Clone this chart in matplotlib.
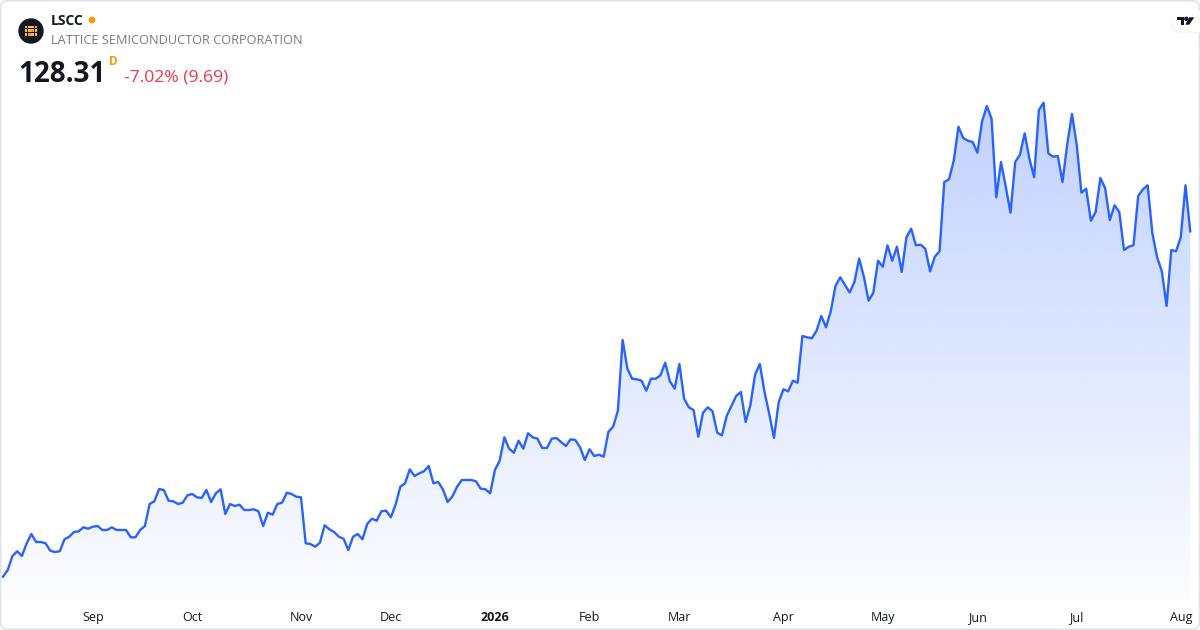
import numpy as np
import pandas as pd
import matplotlib
matplotlib.use("Agg")
import matplotlib.pyplot as plt
from matplotlib.patches import FancyBboxPatch, Circle, Rectangle, Polygon

plt.rcParams['font.family'] = ['Open Sans', 'Noto Sans', 'DejaVu Sans']

# ---------------- data ----------------
ticker = "LSCC"
company = "LATTICE SEMICONDUCTOR CORPORATION"
last_price = "128.31"
change_text = "-7.02% (9.69)"

holidays = ["2025-09-01", "2025-11-27", "2025-12-25", "2026-01-01", "2026-01-19",
            "2026-02-16", "2026-04-03", "2026-05-25", "2026-06-19", "2026-07-03"]

closes = [
    55.55, 56.96, 59.91, 60.90, 59.91, 62.58, 64.54, 62.86, 62.86, 62.58,
    61.02, 60.75, 60.90, 63.43, 63.97, 64.96, 65.11, 65.95, 65.66, 66.08,
    66.23, 65.39, 65.39, 65.95, 65.39, 65.39, 65.39, 63.85, 63.85, 65.39,
    66.23, 70.86, 71.43, 74.02, 73.81, 71.56, 71.43, 70.86, 71.14, 72.70,
    72.97, 72.27, 72.13, 73.81, 71.28, 73.12, 73.96, 68.76, 70.86, 70.44,
    70.72, 69.60, 69.60, 69.75, 69.33, 66.23, 69.03, 68.61, 70.86, 71.14,
    73.24, 72.97, 72.40, 72.27, 62.58, 62.44, 61.87, 62.71, 66.38, 65.53,
    64.96, 63.97, 63.55, 61.17, 63.97, 64.54, 63.43, 66.65, 67.77, 67.34,
    69.33, 69.45, 68.06, 70.72, 74.51, 75.22, 78.17, 76.76, 77.33, 77.75,
    78.87, 75.22, 75.50, 73.96, 71.28, 72.44, 74.51, 75.92, 75.92, 75.92,
    75.64, 74.09, 73.96, 73.12, 78.03, 79.98, 84.91, 82.51, 81.67, 84.20,
    82.51, 85.76, 84.91, 84.62, 82.66, 82.66, 84.62, 84.77, 83.92, 83.08,
    84.49, 84.35, 82.81, 80.13, 82.39, 80.97, 81.25, 80.83, 86.09, 87.15,
    90.52, 105.41, 99.37, 97.26, 97.13, 96.84, 94.73, 97.26, 97.26, 97.97,
    100.63, 96.71, 95.15, 100.36, 93.05, 91.23, 90.66, 85.04, 90.10, 91.23,
    90.39, 85.88, 85.34, 89.40, 91.51, 93.61, 94.46, 88.14, 91.66, 98.10,
    100.36, 94.46, 89.82, 84.77, 92.35, 95.03, 94.60, 96.84, 96.42, 106.25,
    105.98, 105.77, 107.37, 110.47, 108.09, 111.46, 116.79, 118.62, 117.00, 115.42,
    117.63, 122.54, 118.75, 113.69, 115.38, 122.12, 120.85, 125.36, 122.12, 125.07,
    119.74, 127.05, 128.86, 125.36, 125.49, 124.64, 119.88, 122.96, 124.10, 138.70,
    139.26, 143.18, 150.35, 147.96, 147.40, 147.12, 144.87, 151.48, 154.71, 152.03,
    135.47, 142.91, 137.71, 132.23, 142.91, 144.45, 148.95, 143.60, 139.69, 153.86,
    155.40, 144.74, 144.03, 144.17, 138.70, 146.70, 153.02, 146.55, 136.44, 137.28,
    130.54, 132.38, 139.54, 137.43, 130.69, 133.79, 132.38, 124.37, 125.07, 125.36,
    135.75, 137.16, 138.00, 127.89, 122.83, 119.88, 112.57, 124.37, 124.10, 127.05,
    138.00, 128.31,
]

# ---------------- dates / ticks ----------------
dates = pd.bdate_range("2025-08-05", "2026-08-05", freq="C", holidays=holidays)
n = len(closes)
dates = dates[:n]
idx = np.arange(n)
month_first = pd.Series(idx, index=dates).groupby([dates.year, dates.month]).first()
tick_pos, tick_lab = [], []
for (yr, mo), i in month_first.items():
    if i == 0:
        continue
    tick_pos.append(i)
    tick_lab.append(str(yr) if mo == 1 else pd.Timestamp(yr, mo, 1).strftime("%b"))

# ---------------- figure ----------------
W, H = 1200, 630
fig = plt.figure(figsize=(W / 100, H / 100), dpi=100)
fig.patch.set_facecolor("white")

ax = fig.add_axes([1 / W, 30 / H, 1198 / W, 600 / H])
ax.set_facecolor("none")
step = 4.73
x_lo = (1 - 3) / step
x_hi = (1199 - 3) / step
ppd = 4.747  # pixels per dollar
y_lo = 128.31 - (600 - 231.3) / ppd
y_hi = 128.31 + 231.3 / ppd

line_color = "#2962FF"
rgb = np.array([41, 98, 255]) / 255.0

poly = ax.fill_between(idx, closes, y_lo, color="none", lw=0)
path = poly.get_paths()[0]
grad = np.zeros((256, 1, 4))
grad[:, 0, :3] = rgb
grad[:, 0, 3] = np.linspace(0.29, 0.015, 256)
im = ax.imshow(grad, extent=[0, n - 1, y_lo, max(closes)], origin="upper",
               aspect="auto", zorder=1, interpolation="bilinear")
im.set_clip_path(path, transform=ax.transData)
ax.plot(idx, closes, color=line_color, lw=1.7, zorder=3, solid_joinstyle="round")

ax.set_xlim(x_lo, x_hi)
ax.set_ylim(y_lo, y_hi)
for s in ax.spines.values():
    s.set_visible(False)
ax.set_yticks([])
ax.set_xticks(tick_pos)
ax.set_xticklabels(tick_lab)
ax.tick_params(axis="x", length=0, pad=8, labelsize=9, labelcolor="#131722")
for lab in ax.get_xticklabels():
    if lab.get_text().isdigit():
        lab.set_fontweight("bold")

# ---------------- overlay (pixel coords) ----------------
ov = fig.add_axes([0, 0, 1, 1], zorder=5)
ov.set_xlim(0, W)
ov.set_ylim(H, 0)
ov.axis("off")
ov.patch.set_alpha(0)

ov.add_patch(FancyBboxPatch((0.8, 0.8), W - 1.6, H - 1.6,
                            boxstyle="round,pad=0,rounding_size=6",
                            fc="none", ec="#e0e3eb", lw=1.2))

# symbol icon
ov.add_patch(Circle((31, 31), 12, color="#131722"))
cols = ["#f7c23a", "#f7c23a", "#f7c23a", "#f59e1b"]
for r in range(3):
    for c in range(4):
        ov.add_patch(Rectangle((24.5 + c * 3.4, 25.5 + r * 3.8), 2.6, 2.8,
                               color=cols[(r + c) % 4], lw=0))

ov.text(51, 21, ticker, fontsize=10, fontweight="bold", color="#131722",
        ha="left", va="center")
ov.add_patch(Circle((92, 20), 2.6, color="#ff9800"))
ov.text(51, 41, company, fontsize=9.2, color="#787b86", ha="left", va="center")
ov.text(18, 82, last_price, fontsize=20, fontweight="bold", color="#131722",
        ha="left", va="baseline")
ov.text(109, 61.5, "D", fontsize=8.5, fontweight="bold", color="#ff9800",
        ha="left", va="center")
ov.text(124, 81.5, change_text, fontsize=12.6, color="#f23645",
        ha="left", va="baseline")

# TradingView badge
ov.add_patch(FancyBboxPatch((1171, 12), 40, 21, boxstyle="round,pad=0,rounding_size=10",
                            fc="#eef0f4", ec="none", alpha=0.8))
ov.add_patch(FancyBboxPatch((1172, 11), 40, 21, boxstyle="round,pad=0,rounding_size=10",
                            fc="white", ec="none"))
ov.add_patch(Rectangle((1177.3, 17.3), 6.7, 2.8, color="#131722", lw=0))
ov.add_patch(Rectangle((1180.8, 17.3), 3.2, 7.4, color="#131722", lw=0))
ov.add_patch(Circle((1186.3, 18.8), 1.5, color="#131722"))
ov.add_patch(Polygon([(1189.2, 17.3), (1194.3, 17.3), (1189.2, 24.7), (1185.3, 24.7)],
                     closed=True, color="#131722", lw=0))

fig.savefig("out.png", dpi=100, facecolor="white")
